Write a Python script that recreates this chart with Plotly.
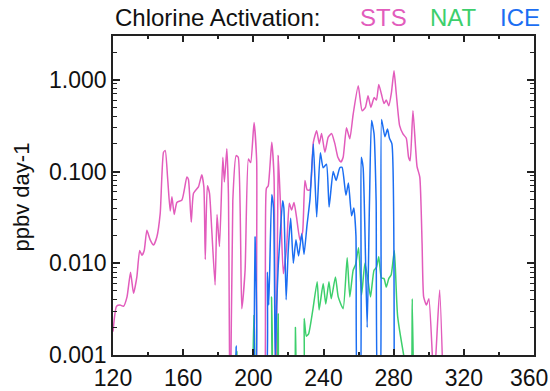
import plotly.graph_objects as go

# Chlorine activation rates (ppbv day-1) by day of year
sts_day = [120, 122, 124, 126, 128, 130, 131.7, 133.6, 135.2, 136.5, 137.8, 139.3, 141.2, 143.1,
           145, 146.9, 148.8, 149.8, 151.1, 152.6, 153.6, 154.9, 156.4, 159.3, 162.1, 163,
           164.6, 165.9, 168.7, 170.6, 171.8, 172.6, 173.8, 175, 176.3, 178.2, 179.3, 180.7,
           182.6, 183.5, 184.9, 185.8, 186.8, 188.3, 190.2, 191.4, 193.4, 195.3, 197.2, 198.5,
           200.4, 201.9, 203.4, 205.5, 207.4, 208.5, 210.5, 211.8, 212.8, 214.2, 215.6, 217.1,
           219, 220.5, 221.8, 223.2, 224.6, 226.6, 228.1, 229.4, 230.7, 232.3, 234.2, 236.1,
           237.6, 238.9, 240.8, 242.7, 244.6, 246.5, 248.2, 249.9, 251.2, 253.1, 255, 256.9,
           259.8, 262, 263.9, 265.4, 267, 268.9, 270.2, 271.5, 273, 274.5, 275.8, 277.2, 278.7,
           280.2, 281.5, 283.4, 285.3, 287.2, 288.5, 289.4, 291, 293.3, 294.9, 296.2, 297.1,
           298.7, 300.1, 303.0, 306.2, 308.3]
sts_val = [0.0018, 0.0034, 0.0035, 0.0034, 0.0043, 0.008, 0.0047, 0.0071, 0.0138, 0.0122, 0.0138,
           0.0229, 0.018, 0.0158, 0.0193, 0.0347, 0.162, 0.169, 0.087, 0.037, 0.053, 0.034, 0.046,
           0.049, 0.087, 0.082, 0.028, 0.058, 0.068, 0.092, 0.068, 0.011, 0.07, 0.058, 0.023,
           0.0058, 0.034, 0.0152, 0.143, 0.077, 0.177, 0.057, 0.0001, 0.048, 0.149, 0.143, 0.0032,
           0.0084, 0.137, 0.125, 0.343, 0.131, 0.0001, 0.0001, 0.065, 0.07, 0.208, 0.087, 0.0001,
           0.149, 0.038, 0.0077, 0.0152, 0.045, 0.038, 0.046, 0.032, 0.0178, 0.022, 0.080, 0.063,
           0.063, 0.208, 0.279, 0.2, 0.26, 0.162, 0.237, 0.26, 0.2, 0.143, 0.127, 0.143, 0.30,
           0.227, 0.42, 0.86, 0.46, 0.50, 0.67, 0.50, 0.64, 0.6, 0.89, 0.70, 0.55, 0.6, 0.52, 0.72,
           1.25, 0.70, 0.316, 0.257, 0.23, 0.143, 0.131, 0.46, 0.114, 0.087, 0.0164, 0.0043,
           0.0035, 0.0041, 0.0005, 0.0051, 0.0004]

nat_day = [189.6, 190.6, 191.4, 199.8, 200.4, 201.0, 209.5, 210.4, 211.6, 213.5, 214.2, 214.9,
           223.2, 224.0, 224.8, 228.2, 229.0, 230.2, 231.5, 233.8, 236.4, 237.5, 239.8, 241.3,
           243.1, 244.4, 246.8, 248.4, 251.2, 253.5, 255, 256.9, 258.3, 260, 261.7, 263.6, 265.2,
           266.8, 268.8, 270.2, 271.5, 273, 274.5, 275.8, 277.2, 278.6, 280.4, 282.3, 289.8,
           290.6, 291.4]
nat_val = [0.0005, 0.0011, 0.0005, 0.0004, 0.0027, 0.0004, 0.0004, 0.0043, 0.0004, 0.0004,
           0.0028, 0.0004, 0.0004, 0.0020, 0.0004, 0.0004, 0.0025, 0.0016, 0.0017, 0.0030,
           0.0063, 0.0031, 0.0060, 0.0036, 0.0063, 0.0041, 0.0071, 0.0043, 0.0032, 0.0115,
           0.0043, 0.0084, 0.0097, 0.0148, 0.0045, 0.0100, 0.0069, 0.0043, 0.0084, 0.0090,
           0.0118, 0.0069, 0.0068, 0.0055, 0.0068, 0.0075, 0.0138, 0.0026, 0.0004, 0.0041,
           0.0004]

ice_day = [189.5, 190.2, 191.0, 200.2, 201.0, 201.8, 207.0, 208.0, 208.8, 210.5, 211.5, 212.5,
           213.3, 214.2, 215.2, 216.7, 217.4, 218.7, 219.9, 221.3, 222.8, 224.3, 225.8, 227.6,
           228.9, 230.6, 232.3, 234.2, 236.1, 238.2, 239.8, 241.7, 243.2, 245.5, 247.2, 249.3,
           250.6, 252.8, 254.2, 256, 257.3, 258.5, 259.6, 260.6, 261.5, 262.6, 264.9, 266.2,
           267.4, 268.8, 270, 271.2, 272.0, 273.1, 275, 276.5, 277.6, 279, 280.3]
ice_val = [0.0005, 0.00125, 0.0005, 0.0005, 0.0193, 0.0004, 0.0005, 0.008, 0.0035, 0.056, 0.04,
           0.0009, 0.0035, 0.0093, 0.019, 0.048, 0.04, 0.004, 0.0138, 0.031, 0.01, 0.018, 0.012,
           0.021, 0.0125, 0.026, 0.05, 0.2, 0.032, 0.16, 0.11, 0.12, 0.041, 0.10, 0.08, 0.11,
           0.111, 0.055, 0.075, 0.033, 0.04, 0.02, 0.0003, 0.0003, 0.143, 0.11, 0.002, 0.045,
           0.36, 0.26, 0.048, 0.0003, 0.0003, 0.37, 0.24, 0.29, 0.23, 0.2, 0.0003]

x_ticks = [120, 160, 200, 240, 280, 320, 360]
x_tick_text = ["120", "160", "200", "240", "280", "320", ""]
x_last_label = "360"
x_minor = [140, 180, 220, 260, 300, 340]
y_ticks = [0.001, 0.01, 0.1, 1.0]
y_tick_text = ["0.001", "0.010", "0.100", "1.000"]
y_minor = [m * 10 ** e for e in (-3, -2, -1, 0) for m in range(2, 10) if m * 10 ** e <= 3]

PINK = "#e25cbc"
GREEN = "#3dcf6c"
BLUE = "#1b6ef2"
FONT = "Liberation Sans, Arial, Helvetica, sans-serif"

fig = go.Figure()
for xs, ys, col in ((sts_day, sts_val, PINK), (nat_day, nat_val, GREEN), (ice_day, ice_val, BLUE)):
    fig.add_trace(go.Scatter(x=xs, y=ys, mode="lines",
                             line=dict(color=col, width=1.5, shape="spline", smoothing=0.5),
                             showlegend=False, hoverinfo="skip"))

axis_common = dict(showline=True, linecolor="#222", linewidth=1.5, mirror="allticks",
                   ticks="inside", tickcolor="#222", tickwidth=1.5, showgrid=False,
                   zeroline=False, automargin=False,
                   tickfont=dict(family=FONT, size=23, color="#111"))

fig.update_xaxes(range=[120, 360], tickvals=x_ticks, ticktext=x_tick_text, ticklen=6,
                 ticklabeloverflow="allow", ticklabelstandoff=2,
                 minor=dict(tickvals=x_minor, ticks="inside",
                            ticklen=3.5, tickcolor="#222", tickwidth=1.5),
                 **axis_common)
fig.update_yaxes(type="log", range=[-3, 0.477], tickvals=y_ticks, ticktext=y_tick_text,
                 ticklen=7,
                 minor=dict(tickvals=y_minor, ticks="inside", ticklen=4.5,
                            tickcolor="#222", tickwidth=1.2),
                 **axis_common)

# The last x label sits at the right page edge; nudge it inward
fig.add_annotation(text=x_last_label, x=x_ticks[-1], y=-0.072, xref="x", yref="paper",
                   xanchor="center", yanchor="middle", xshift=-5, showarrow=False,
                   font=dict(family=FONT, size=23, color="#111"))

# Header with the coloured type names
title_y = 1 + (36 - 17) / 319
for txt, xp, col in (("Chlorine Activation:", 0.0, "#111"), ("STS", 0.581, PINK),
                     ("NAT", 0.749, GREEN), ("ICE", 0.914, BLUE)):
    fig.add_annotation(text=txt, x=xp, y=title_y, xref="paper", yref="paper",
                       xanchor="left", yanchor="middle", showarrow=False,
                       font=dict(family=FONT, size=24, color=col))

fig.add_annotation(text="ppbv day-1", x=(21 - 112.7) / 421.8, y=(355 - 197) / 319,
                   xref="paper", yref="paper", xanchor="center", yanchor="middle",
                   textangle=-90, showarrow=False,
                   font=dict(family=FONT, size=22, color="#111"))

fig.update_layout(width=550, height=391, margin=dict(l=113, r=16, t=36, b=36),
                  paper_bgcolor="white", plot_bgcolor="white")

fig.write_html("out.html")
